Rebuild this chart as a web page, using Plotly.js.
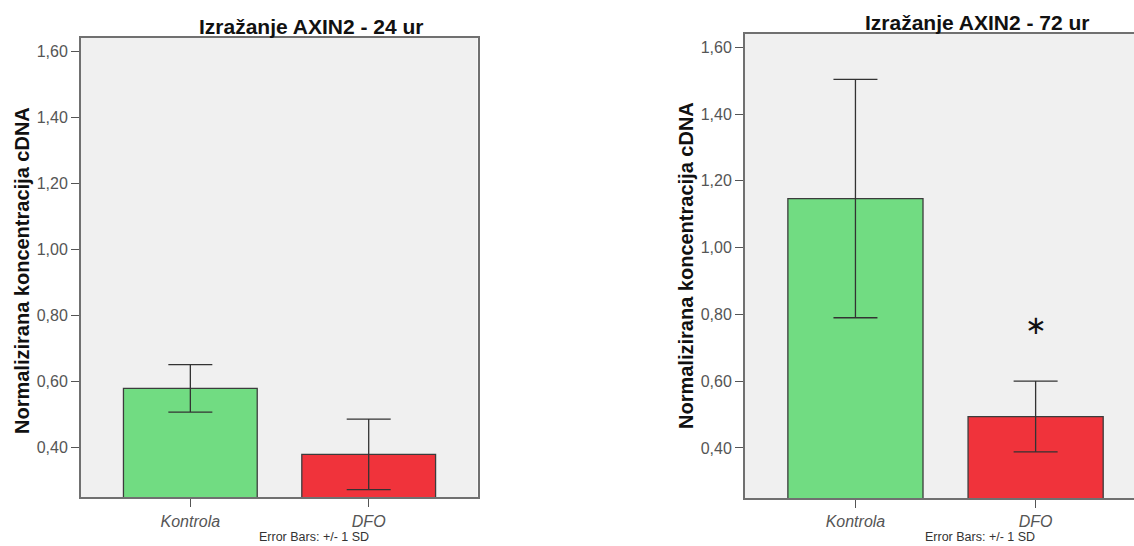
<!DOCTYPE html>
<html>
<head>
<meta charset="utf-8">
<script src="https://cdn.plot.ly/plotly-3.0.1.min.js"></script>
<style>
  html, body { margin: 0; padding: 0; background: #ffffff; overflow: hidden; }
  #chart { width: 1134px; height: 546px; }
</style>
</head>
<body>
<div id="chart"></div>
<script>
// AXIN2 expression (normalised cDNA concentration), mean +/- 1 SD
const categories = ['Kontrola', 'DFO'];
const mean24 = [0.579, 0.379];
const sd24   = [0.072, 0.107];
const mean72 = [1.147, 0.494];
const sd72   = [0.357, 0.106];
const barColors = ['#71dc82', '#f0333b'];

const tickValues = [0.4, 0.6, 0.8, 1.0, 1.2, 1.4, 1.6];
const tickLabels = ['0,40', '0,60', '0,80', '1,00', '1,20', '1,40', '1,60'];

const titles = ['Izražanje AXIN2 - 24 ur', 'Izražanje AXIN2 - 72 ur'];
const yTitle = 'Normalizirana koncentracija cDNA';
const errNote = 'Error Bars: +/- 1 SD';
const sigMark = { category: 'DFO', value: 0.768, text: '∗' };

const W = 1134, H = 546;
const px = v => v / W;          // horizontal pixel -> paper
const py = v => 1 - v / H;      // vertical pixel -> paper

function barTrace(means, sds, xa, ya) {
  return {
    type: 'bar',
    x: categories,
    y: means,
    xaxis: xa,
    yaxis: ya,
    width: 0.75,
    marker: { color: barColors, line: { color: '#3c3c3c', width: 1.3 } },
    error_y: { type: 'data', array: sds, visible: true, color: '#333333', thickness: 1.3, width: 22 },
    hoverinfo: 'skip'
  };
}

const tickFont = { family: 'Liberation Sans, Arial, sans-serif', size: 16, color: '#555555' };
const catFont = { family: 'Liberation Sans, Arial, sans-serif', size: 16, color: '#555555', style: 'italic' };
const frameColor = '#707070';

function yAxis(domain, range, mirror, anchor) {
  return {
    domain: domain, range: range, anchor: anchor,
    tickmode: 'array', tickvals: tickValues, ticktext: tickLabels,
    ticks: 'outside', ticklen: 8, tickwidth: 1, tickcolor: '#555555',
    tickfont: tickFont,
    showgrid: false, zeroline: false,
    showline: true, linecolor: frameColor, linewidth: 2, mirror: mirror
  };
}

function xAxis(domain, range, anchor) {
  return {
    domain: domain, range: range, anchor: anchor, type: 'category',
    ticks: 'outside', ticklen: 8, tickwidth: 1.5, tickcolor: '#555555',
    tickfont: catFont,
    showgrid: false, zeroline: false,
    showline: true, linecolor: frameColor, linewidth: 2, mirror: true
  };
}

const layout = {
  width: W, height: H,
  margin: { l: 0, r: 0, t: 0, b: 0 },
  paper_bgcolor: '#ffffff',
  plot_bgcolor: '#f0f0f0',
  showlegend: false,
  bargap: 0.25,
  xaxis:  xAxis([px(81), px(477.5)], [-0.613, 1.610], 'y'),
  yaxis:  yAxis([1 - 497.3 / H, 1 - 38 / H], [0.249, 1.641], true, 'x'),
  xaxis2: xAxis([px(745), 1], [-0.613, 1.546], 'y2'),
  yaxis2: yAxis([1 - 498 / H, 1 - 34 / H], [0.250, 1.640], false, 'x2'),
  annotations: [
    { text: '<b>' + titles[0] + '</b>', xref: 'paper', yref: 'paper', x: px(311), y: py(26),
      xanchor: 'center', yanchor: 'middle', showarrow: false,
      font: { family: 'Liberation Sans, Arial, sans-serif', size: 21, color: '#111111' } },
    { text: '<b>' + titles[1] + '</b>', xref: 'paper', yref: 'paper', x: px(977), y: py(22.5),
      xanchor: 'center', yanchor: 'middle', showarrow: false,
      font: { family: 'Liberation Sans, Arial, sans-serif', size: 21, color: '#111111' } },
    { text: '<b>' + yTitle + '</b>', xref: 'paper', yref: 'paper', x: px(22), y: py(271),
      xanchor: 'center', yanchor: 'middle', textangle: -90, showarrow: false,
      font: { family: 'Liberation Sans, Arial, sans-serif', size: 20, color: '#111111' } },
    { text: '<b>' + yTitle + '</b>', xref: 'paper', yref: 'paper', x: px(686), y: py(266),
      xanchor: 'center', yanchor: 'middle', textangle: -90, showarrow: false,
      font: { family: 'Liberation Sans, Arial, sans-serif', size: 20, color: '#111111' } },
    { text: errNote, xref: 'paper', yref: 'paper', x: px(314), y: py(537),
      xanchor: 'center', yanchor: 'middle', showarrow: false,
      font: { family: 'Liberation Sans, Arial, sans-serif', size: 12.5, color: '#333333' } },
    { text: errNote, xref: 'paper', yref: 'paper', x: px(980), y: py(537),
      xanchor: 'center', yanchor: 'middle', showarrow: false,
      font: { family: 'Liberation Sans, Arial, sans-serif', size: 12.5, color: '#333333' } },
    { text: sigMark.text, xref: 'x2', yref: 'y2', x: sigMark.category, y: sigMark.value,
      xanchor: 'center', yanchor: 'middle', showarrow: false,
      font: { family: 'DejaVu Sans, sans-serif', size: 26, color: '#111111' } }
  ]
};

Plotly.newPlot('chart', [
  barTrace(mean24, sd24, 'x', 'y'),
  barTrace(mean72, sd72, 'x2', 'y2')
], layout, { staticPlot: true, displayModeBar: false });
</script>
</body>
</html>
